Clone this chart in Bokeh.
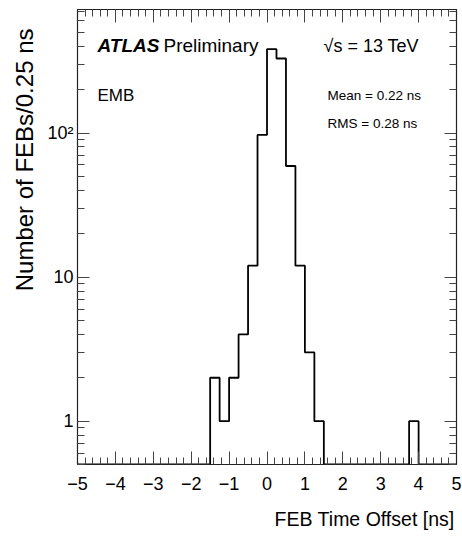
import numpy as np
from bokeh.plotting import figure
from bokeh.models import FixedTicker, LinearAxis, LogAxis, Label, Title, CustomJSTickFormatter
from bokeh.embed import file_html
from bokeh.resources import INLINE

# ---------------- data ----------------
bin_width = 0.25
x_start = -5.0
x_end = 5.0
# FEB counts per 0.25 ns bin, from -5 ns to 5 ns (40 bins)
counts = [0, 0, 0, 0, 0, 0, 0, 0, 0, 0,
          0, 0, 0, 0, 2, 1, 2, 4, 12, 97,
          382, 329, 59, 12, 3, 1, 0, 0, 0, 0,
          0, 0, 0, 0, 0, 1, 0, 0, 0, 0]
y_min, y_max = 0.5, 720

x_ticks = [-5, -4, -3, -2, -1, 0, 1, 2, 3, 4, 5]
x_tick_labels = ["\u22125", "\u22124", "\u22123", "\u22122", "\u22121", "0", "1", "2", "3", "4", "5"]
y_ticks = [1, 10, 100]
y_tick_labels = ["1", "10", "10\u00b2"]

FONT = "Liberation Sans"

# ---------------- figure ----------------
p = figure(width=462, height=543, x_range=(x_start, x_end), y_range=(y_min, y_max),
           y_axis_type="log", output_backend="svg", toolbar_location=None,
           min_border_left=77, min_border_right=6, min_border_top=9, min_border_bottom=79)
p.grid.visible = False
p.outline_line_color = "#222222"
p.outline_line_width = 1.2
p.background_fill_color = "white"
p.border_fill_color = "white"

x_minor = list(np.round(np.arange(x_start, x_end + 1e-9, 0.2), 3))
y_minor = [m * d for d in (0.1, 1, 10, 100) for m in range(2, 10) if y_min <= m * d <= y_max]
xticker = FixedTicker(ticks=x_ticks, minor_ticks=x_minor)
yticker = FixedTicker(ticks=y_ticks, minor_ticks=y_minor)


def style_axis(ax, major_len, minor_len, show_labels):
    ax.major_tick_in = major_len
    ax.major_tick_out = 0
    ax.minor_tick_in = minor_len
    ax.minor_tick_out = 0
    ax.axis_line_color = "#222222"
    ax.major_tick_line_color = "#444444"
    ax.minor_tick_line_color = "#444444"
    if not show_labels:
        ax.formatter = CustomJSTickFormatter(code="return '';")
        ax.major_label_text_font_size = "1px"
        ax.major_label_standoff = 0


xa = p.xaxis[0]
xa.ticker = xticker
xa.major_label_overrides = {t: l for t, l in zip(x_ticks, x_tick_labels)}
xa.major_label_text_font = FONT
xa.major_label_text_font_size = "18px"
xa.major_label_text_color = "black"
xa.major_label_standoff = 12
style_axis(xa, 13, 7, True)

ya = p.yaxis[0]
ya.ticker = yticker
ya.major_label_overrides = {t: l for t, l in zip(y_ticks, y_tick_labels)}
ya.major_label_text_font = FONT
ya.major_label_text_font_size = "18px"
ya.major_label_text_color = "black"
ya.major_label_standoff = 4
style_axis(ya, 12, 7, True)

top = LinearAxis(ticker=xticker)
style_axis(top, 13, 7, False)
p.add_layout(top, "above")
right = LogAxis(ticker=yticker)
style_axis(right, 12, 7, False)
p.add_layout(right, "right")

# axis titles (ROOT style: aligned to the end of the axis)
p.add_layout(Title(text="FEB Time Offset [ns]", align="right", offset=2, standoff=27,
                   text_font=FONT, text_font_size="19.5px", text_font_style="normal",
                   text_color="black"), "below")
p.add_layout(Title(text="Number of FEBs/0.25 ns", align="right", offset=19, standoff=13,
                   text_font=FONT, text_font_size="24px", text_font_style="normal",
                   text_color="black"), "left")

# ---------------- histogram outline ----------------
edges = x_start + bin_width * np.arange(len(counts) + 1)
c = np.maximum(np.array(counts, dtype=float), y_min)
xs = np.repeat(edges, 2)[1:-1]
ys = np.repeat(c, 2)
p.line(xs, ys, line_color="black", line_width=1.8)

# ---------------- texts ----------------
def add_label(text, x, y, size, style="normal", align="left", baseline="alphabetic"):
    p.add_layout(Label(x=x, y=y, x_units="screen", y_units="screen", text=text,
                       text_font=FONT, text_font_size=size, text_font_style=style,
                       text_align=align, text_baseline=baseline, text_color="black"))

add_label("ATLAS", 20, 419, "19px", style="bold italic")
add_label("Preliminary", 86, 419, "19px")
add_label("\u221as = 13 TeV", 246, 419, "18px")
add_label("EMB", 20, 369, "17px")
add_label("Mean = 0.22 ns", 250, 369, "13.5px")
add_label("RMS  = 0.28 ns", 250, 341, "13.5px")

open("out.html", "w").write(file_html(p, INLINE))
